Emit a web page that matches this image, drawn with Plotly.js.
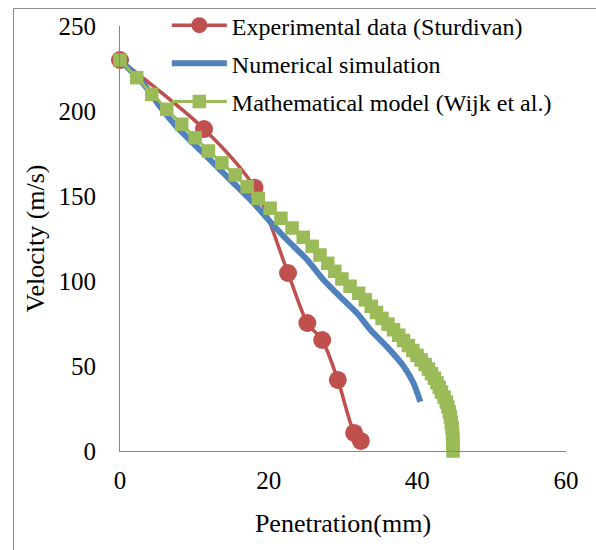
<!DOCTYPE html>
<html>
<head>
<meta charset="utf-8">
<script src="https://cdn.plot.ly/plotly-3.0.1.min.js"></script>
<style>html,body{margin:0;padding:0;background:#fff;}#chart{width:596px;height:550px;}</style>
</head>
<body>
<div id="chart"></div>
<script>
// Experimental data (Sturdivan)
var expX = [0, 11.3, 18.1, 22.6, 25.2, 27.2, 29.3, 31.5, 32.4];
var expY = [230, 189.4, 154.9, 104.7, 75.3, 65.3, 41.8, 10.6, 5.9];

// Numerical simulation
var numX = [0, 3.1, 5.4, 7.6, 10.8, 12.6, 15.3, 18.0, 20.2, 22.5, 25.2, 27.4, 29.6, 31.9, 33.7, 35.9, 38.2, 39.5, 40.4];
var numY = [230, 216.3, 202.5, 190.8, 177, 169.2, 157.5, 145.7, 134.9, 124.1, 112.4, 100.6, 90.8, 81, 71.2, 61.4, 49.6, 39.8, 29];

// Mathematical model (Wijk et al.)
var modX = [0, 2.25, 4.27, 6.29, 8.3, 10.1, 11.9, 13.7, 15.5, 17.1, 18.6, 20.2, 21.65, 23.15, 24.65, 25.85, 26.9, 27.95, 28.9, 29.85, 30.95, 32.1, 33.0, 33.8, 34.5, 35.25, 36.05, 36.8, 37.5, 38.15, 38.8, 39.4, 39.95, 40.5, 41.05, 41.5, 41.9, 42.3, 42.65, 42.95, 43.25, 43.6, 43.9, 44.12, 44.31, 44.45, 44.57, 44.68, 44.74, 44.78, 44.8, 44.8];
var modY = [230, 219.6, 209.8, 201, 192.2, 184.3, 176.5, 169.5, 162.4, 155.5, 148.6, 142.8, 136.9, 131.2, 125.7, 120.4, 115.3, 110.4, 105.7, 101.2, 96.9, 92.8, 88.9, 85.1, 81.5, 78.0, 74.6, 71.3, 68.1, 65.0, 62.0, 59.1, 56.3, 53.6, 50.9, 48.2, 45.5, 42.8, 40.1, 37.4, 34.6, 31.7, 28.8, 25.9, 23.0, 20.0, 16.9, 13.7, 10.4, 7.0, 3.5, 0];

var names = ['Experimental data (Sturdivan)', 'Numerical simulation', 'Mathematical model (Wijk et al.)'];
var xTicks = [0, 20, 40, 60];
var yTicks = [0, 50, 100, 150, 200, 250];

var serif = 'Times New Roman';

var traces = [
  {x: expX, y: expY, name: names[0], legendgroup: 'a', type: 'scatter', mode: 'lines+markers',
   line: {color: '#C0504D', width: 3.5, shape: 'spline', smoothing: 0.8},
   marker: {symbol: 'circle', size: 18, color: '#C0504D'}, cliponaxis: false},
  {x: numX, y: numY, name: names[1], legendgroup: 'b', type: 'scatter', mode: 'lines',
   line: {color: '#4F81BD', width: 6, shape: 'spline', smoothing: 0.5}, cliponaxis: false},
  {x: modX, y: modY, name: names[2], legendgroup: 'c', type: 'scatter', mode: 'lines+markers',
   line: {color: '#9BBB59', width: 3},
   marker: {symbol: 'square', size: 13.5, color: '#9BBB59'}, cliponaxis: false}
];

var layout = {
  width: 596, height: 550,
  margin: {l: 120, r: 30, t: 26, b: 99, autoexpand: false},
  paper_bgcolor: '#ffffff', plot_bgcolor: '#ffffff',
  font: {family: serif, size: 24, color: '#000'},
  showlegend: true,
  legend: {x: 0.105, y: 1.054, xanchor: 'left', yanchor: 'top', bgcolor: 'rgba(0,0,0,0)',
           font: {family: serif, size: 24, color: '#000'}, itemwidth: 55, tracegroupgap: 4},
  xaxis: {range: [0, 60], tickvals: xTicks, ticktext: xTicks.map(String),
          showgrid: false, zeroline: false, showline: true, linecolor: '#868686', linewidth: 1,
          ticks: '', ticklabelstandoff: 7, tickfont: {family: serif, size: 25},
          title: {text: 'Penetration(mm)', font: {family: serif, size: 26}, standoff: 20}},
  yaxis: {range: [0, 250], tickvals: yTicks, ticktext: yTicks.map(String),
          showgrid: false, zeroline: false, showline: true, linecolor: '#868686', linewidth: 1,
          ticks: '', ticklabelstandoff: 18, tickfont: {family: serif, size: 25},
          title: {text: 'Velocity (m/s)', font: {family: serif, size: 26}, standoff: 6}},
  shapes: [{type: 'rect', xref: 'paper', yref: 'paper', x0: -0.2388, x1: 1.08, y0: -0.25, y1: 1.0412,
            line: {color: '#8c8c8c', width: 1}, fillcolor: 'rgba(0,0,0,0)', layer: 'below'}]
};

Plotly.newPlot('chart', traces, layout, {staticPlot: true, displayModeBar: false});
</script>
</body>
</html>
